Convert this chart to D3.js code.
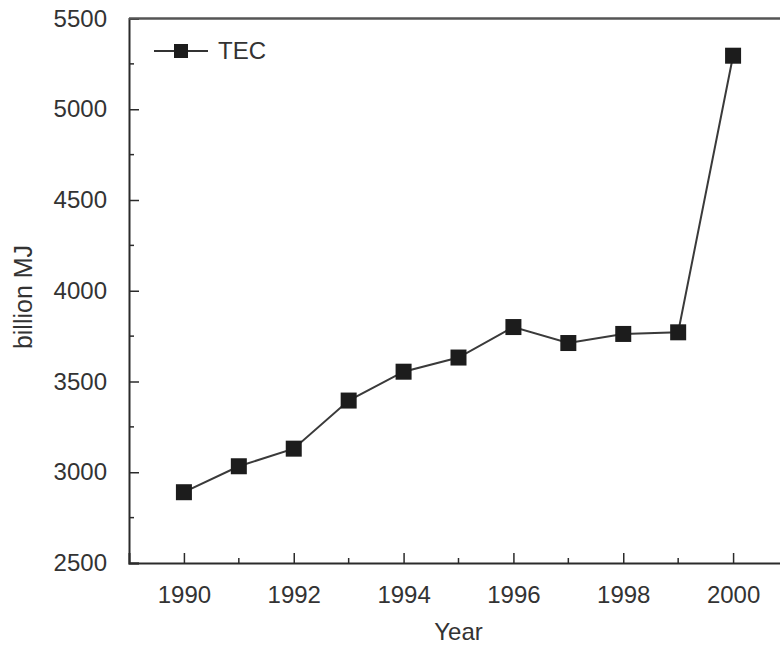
<!DOCTYPE html>
<html>
<head>
<meta charset="utf-8">
<script src="https://cdn.jsdelivr.net/npm/d3@7"></script>
<style>
  body { margin: 0; background: #fff; }
  svg { display: block; font-family: "Liberation Sans", Arial, sans-serif; }
</style>
</head>
<body>
<div id="chart"></div>
<script>
// data
const years = [1990, 1991, 1992, 1993, 1994, 1995, 1996, 1997, 1998, 1999, 2000];
const tec = [2890, 3033, 3130, 3395, 3554, 3632, 3800, 3712, 3762, 3771, 5295];
const yTicks = [2500, 3000, 3500, 4000, 4500, 5000, 5500];
const xTicks = [1990, 1992, 1994, 1996, 1998, 2000];
const seriesName = "TEC";

const width = 780, height = 647;
const margin = {left: 129, top: 18.5, right: -8, bottom: 84};

const svg = d3.select("#chart").append("svg")
    .attr("width", width)
    .attr("height", height);

const x = d3.scaleLinear()
    .domain([1989, 2001])
    .range([margin.left, width - margin.right]);

const y = d3.scaleLinear()
    .domain([2500, 5500])
    .range([height - margin.bottom, margin.top]);

const ink = "#2b2b2b";

// minor ticks (inside)
svg.append("g")
    .selectAll("line")
    .data(d3.range(2750, 5500, 500))
    .join("line")
      .attr("x1", x.range()[0]).attr("x2", x.range()[0] + 5)
      .attr("y1", d => y(d)).attr("y2", d => y(d))
      .attr("stroke", ink).attr("stroke-width", 1.5);

svg.append("g")
    .selectAll("line")
    .data(d3.range(1991, 2001, 2))
    .join("line")
      .attr("x1", d => x(d)).attr("x2", d => x(d))
      .attr("y1", y.range()[0]).attr("y2", y.range()[0] - 5)
      .attr("stroke", ink).attr("stroke-width", 1.5);

// y axis
const yAxis = svg.append("g")
    .attr("transform", `translate(${x.range()[0]},0)`)
    .call(d3.axisLeft(y).tickValues(yTicks).tickSize(-10).tickPadding(22).tickFormat(d3.format("d")));

// x axis
const xAxis = svg.append("g")
    .attr("transform", `translate(0,${y.range()[0]})`)
    .call(d3.axisBottom(x).tickValues(xTicks).tickSize(-10).tickPadding(22).tickFormat(d3.format("d")));

[yAxis, xAxis].forEach(g => {
  g.select(".domain").attr("stroke", ink).attr("stroke-width", 2);
  g.selectAll(".tick line").attr("stroke", ink).attr("stroke-width", 1.5);
  g.selectAll(".tick text")
      .attr("fill", "#333")
      .style("font-size", "24px")
      .style("font-family", "'Liberation Sans', Arial, sans-serif");
});
xAxis.selectAll(".tick text").attr("dy", "0.35em").attr("y", 32);

// top frame line
svg.append("line")
    .attr("x1", x.range()[0]).attr("x2", x.range()[1])
    .attr("y1", y.range()[1]).attr("y2", y.range()[1])
    .attr("stroke", "#555").attr("stroke-width", 2.5);

// axis titles
svg.append("text")
    .attr("x", (x.range()[0] + x.range()[1]) / 2)
    .attr("y", 640)
    .attr("text-anchor", "middle")
    .attr("fill", "#333")
    .style("font-size", "24px")
    .text("Year");

svg.append("text")
    .attr("transform", "translate(32,297) rotate(-90)")
    .attr("text-anchor", "middle")
    .attr("fill", "#333")
    .style("font-size", "25px")
    .text("billion MJ");

// series
const line = d3.line()
    .x((d, i) => x(years[i]))
    .y(d => y(d));

svg.append("path")
    .datum(tec)
    .attr("fill", "none")
    .attr("stroke", "#3a3a3a")
    .attr("stroke-width", 2)
    .attr("d", line);

const sq = 16;
svg.append("g")
    .selectAll("rect")
    .data(tec)
    .join("rect")
      .attr("x", (d, i) => x(years[i]) - sq / 2)
      .attr("y", d => y(d) - sq / 2)
      .attr("width", sq)
      .attr("height", sq)
      .attr("fill", "#1c1c1c");

// legend
const legend = svg.append("g").attr("transform", "translate(154,51)");
legend.append("line")
    .attr("x1", 0).attr("x2", 54)
    .attr("stroke", "#333").attr("stroke-width", 2);
legend.append("rect")
    .attr("x", 27 - 7).attr("y", -7)
    .attr("width", 14).attr("height", 14)
    .attr("fill", "#1c1c1c");
legend.append("text")
    .attr("x", 64)
    .attr("dy", "0.35em")
    .attr("fill", "#333")
    .style("font-size", "24px")
    .text(seriesName);
</script>
</body>
</html>
